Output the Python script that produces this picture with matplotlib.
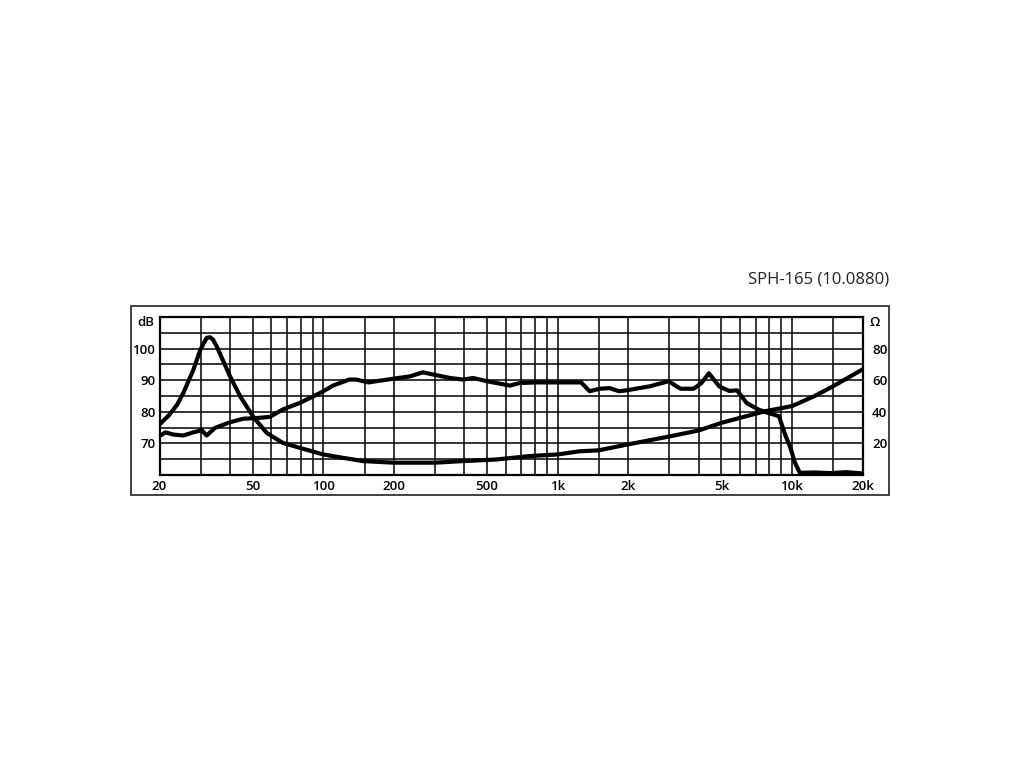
import matplotlib
matplotlib.use("Agg")
import matplotlib.pyplot as plt
from matplotlib.patches import Rectangle
from matplotlib.ticker import FixedLocator, NullLocator

plt.rcParams['font.family'] = ['Open Sans', 'DejaVu Sans']

# SPL curve (dB)
spl_freq = [20, 21.2, 22.9, 25.3, 27.9, 30.3, 31.8, 34.5, 40, 45.6, 53.5, 59.2,
            67, 79.3, 90.8, 100, 110, 129, 138, 156, 169, 200, 234, 266, 294,
            347, 395, 436, 497, 626, 688, 807, 992, 1260, 1370, 1512, 1670,
            1830, 1970, 2486, 2980, 3150, 3350, 3800, 4100, 4420, 4900, 5400,
            5830, 6400, 7200, 7950, 8800, 9400, 9800, 10300, 10800, 12400,
            14600, 17000, 20000]
spl_db = [72.3, 73.5, 72.8, 72.5, 73.5, 74.2, 72.5, 74.9, 76.7, 77.8, 78.1, 78.4,
          80.7, 82.8, 84.9, 86.5, 88.3, 90.2, 90.2, 89.3, 89.7, 90.5, 91.2, 92.5, 91.8,
          90.7, 90.2, 90.7, 89.7, 88.3, 89.1, 89.3, 89.3, 89.3, 86.5, 87.3, 87.5,
          86.5, 86.8, 88.1, 89.7, 88.5, 87.3, 87.3, 89.0, 92.2, 88.0, 86.6,
          86.8, 82.8, 80.7, 79.6, 78.6, 72.3, 69.1, 63.9, 60.7, 60.8,
          60.6, 60.9, 60.5]

# impedance curve (ohm)
imp_freq = [20, 22, 23.8, 25.3, 27.9, 29.9, 31.8, 32.8, 33.8, 35.1, 40, 44.2, 50.6,
            57.4, 67, 79.3, 100, 122, 148, 200, 300, 395, 546, 762, 1000, 1239,
            1493, 1970, 3000, 4000, 5000, 7000, 7700, 10000, 12500, 15000, 20000]
imp_ohm = [32, 38, 44.6, 52, 66.6, 79.4, 86.8, 87.2, 85.8, 81.4, 62.4, 49.8, 36.2,
           26.6, 20.4, 17.2, 13, 10.8, 8.8, 7.8, 7.8, 8.8, 9.8, 12, 13, 15,
           15.6, 19.2, 24.4, 28.2, 33, 38.8, 40.4, 43.6, 50, 56.2, 66.8]

grid_freq = [20, 30, 40, 50, 60, 70, 80, 90, 100, 150, 200, 300, 400, 500, 600,
             700, 800, 900, 1000, 1500, 2000, 3000, 4000, 5000, 6000, 7000,
             8000, 9000, 10000, 15000, 20000]
x_labels = [(20, '20'), (50, '50'), (100, '100'), (200, '200'), (500, '500'),
            (1000, '1k'), (2000, '2k'), (5000, '5k'), (10000, '10k'), (20000, '20k')]
db_ticks = [70, 80, 90, 100]
ohm_ticks = [20, 40, 60, 80]

fig = plt.figure(figsize=(10.24, 7.68), dpi=100)
ax = fig.add_axes([159.5 / 1024, 1 - 475 / 768, 703 / 1024, 158 / 768])

# outer frame
fig.patches.append(Rectangle((131 / 1024, 1 - 495 / 768), 758 / 1024, 189 / 768,
                             transform=fig.transFigure, fill=False,
                             edgecolor='#333333', linewidth=1.3))

ax.set_xscale('log')
ax.set_xlim(20, 20000)
ax.set_ylim(60, 110)

for f in grid_freq:
    ax.axvline(f, color='black', lw=1.1, zorder=1)
for d in range(65, 110, 5):
    ax.axhline(d, color='black', lw=1.1, zorder=1)

ax.xaxis.set_major_locator(NullLocator())
ax.xaxis.set_minor_locator(NullLocator())
ax.yaxis.set_major_locator(FixedLocator(db_ticks))
ax.yaxis.set_minor_locator(NullLocator())
ax.tick_params(axis='y', length=0, pad=3, labelsize=9.5)
for lab in ax.get_yticklabels():
    lab.set_fontweight('semibold')

for f, t in x_labels:
    ax.text(f, -0.07, t, transform=ax.get_xaxis_transform(), ha='center',
            va='center', fontsize=9.5, fontweight='semibold')

ax.text(-0.008, 108.3, 'dB', transform=ax.get_yaxis_transform(), ha='right',
        va='center', fontsize=9.5, fontweight='semibold')

for s in ax.spines.values():
    s.set_linewidth(1.6)

ax.plot(spl_freq, spl_db, color='black', lw=3, solid_joinstyle='round',
        solid_capstyle='round', zorder=3)

ax2 = ax.twinx()
ax2.set_ylim(0, 100)
ax2.yaxis.set_major_locator(FixedLocator(ohm_ticks))
ax2.tick_params(axis='y', length=0, pad=7, labelsize=9.5)
for lab in ax2.get_yticklabels():
    lab.set_fontweight('semibold')
for s in ax2.spines.values():
    s.set_visible(False)
ax2.plot(imp_freq, imp_ohm, color='black', lw=3, solid_joinstyle='round',
         solid_capstyle='round', zorder=3)
ax2.text(1.01, 96.6, 'Ω', transform=ax2.get_yaxis_transform(), ha='left',
         va='center', fontsize=9.5, fontweight='semibold')

fig.text(889 / 1024, 1 - 279 / 768, 'SPH-165 (10.0880)', ha='right', va='center',
         fontsize=12, color='#222222')

fig.savefig('out.png', dpi=100)
